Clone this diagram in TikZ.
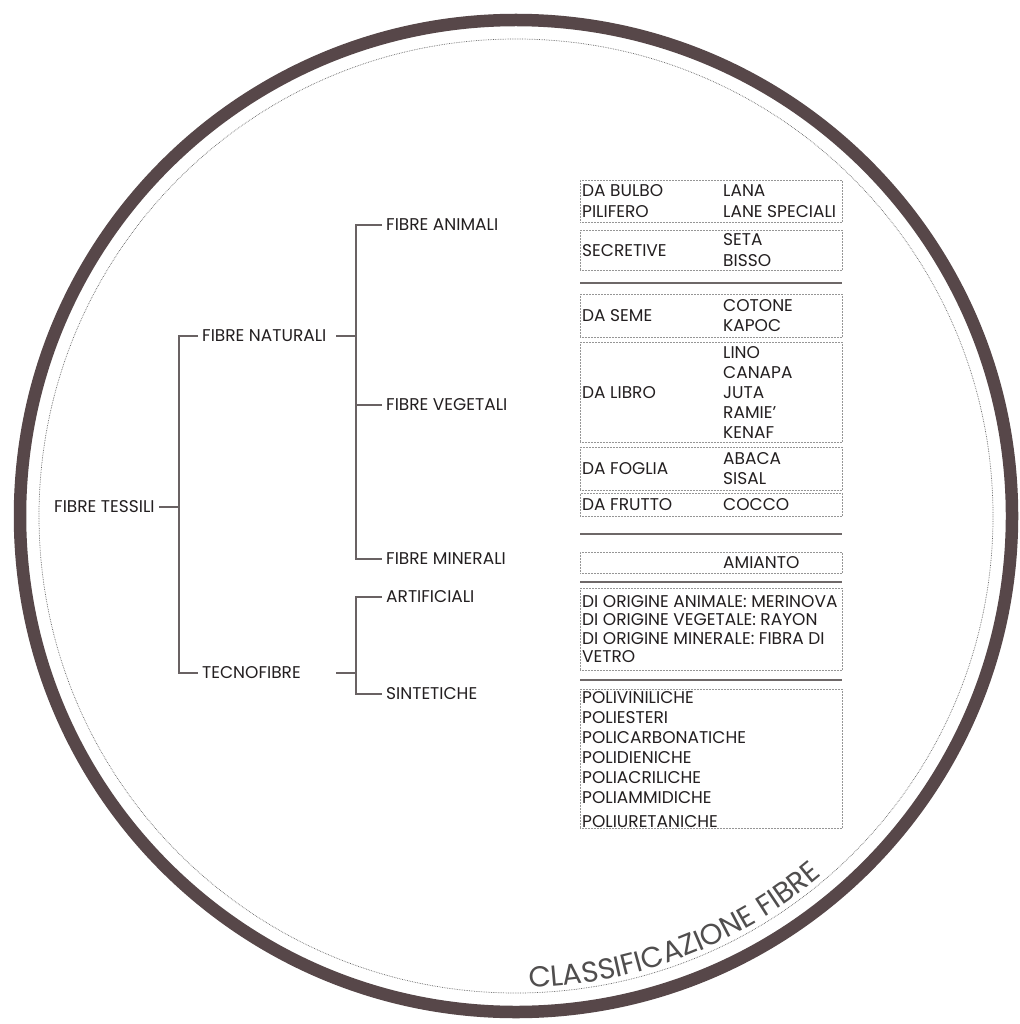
\documentclass[tikz,border=0pt]{standalone}
\usepackage{fontspec}
\setmainfont{Poppins}
\usetikzlibrary{decorations.text}

\definecolor{ringbrown}{RGB}{87,71,73}
\definecolor{sepgray}{RGB}{110,104,104}
\definecolor{linegray}{RGB}{105,98,99}
\definecolor{boxgray}{RGB}{150,150,150}
\definecolor{ink}{RGB}{35,31,32}
\definecolor{titlegray}{RGB}{80,78,78}

\tikzset{
  branch/.style={anchor=west, inner xsep=4pt, inner ysep=0pt, text=ink,
    font=\fontsize{17}{20}\selectfont},
  tree/.style={draw=linegray, line width=1.3pt},
  catbox/.style={draw=boxgray, densely dotted, line width=0.5pt,
    minimum width=262pt, anchor=north west, inner sep=0pt},
  lbl/.style={anchor=west, inner sep=0pt, align=left, text=ink,
    font=\fontsize{17}{20.5}\selectfont},
  sep/.style={draw=sepgray, line width=2.6pt},
}

\begin{document}
\begin{tikzpicture}[x=1pt, y=-1pt]
    \useasboundingbox[fill=white] (0,0) rectangle (1019,1024);

    % Outer ring and dotted circle
    \draw[ringbrown, line width=12.5pt] (516,516) circle[radius=496];
    \draw[black!60, densely dotted, line width=0.7pt] (516,516) circle[radius=477];

    % Tree nodes
    \node[branch] (tessili) at (50,507) {FIBRE TESSILI};
    \node[branch] (naturali) at (198,336) {FIBRE NATURALI};
    \node[branch] (tecno) at (198,673) {TECNOFIBRE};
    \node[branch] (animali) at (382,225) {FIBRE ANIMALI};
    \node[branch] (vegetali) at (382,405) {FIBRE VEGETALI};
    \node[branch] (minerali) at (382,559) {FIBRE MINERALI};
    \node[branch] (artificiali) at (382,597) {ARTIFICIALI};
    \node[branch] (sintetiche) at (382,694) {SINTETICHE};

    % Junctions
    \coordinate (j1) at (179,507);
    \coordinate (naturali-out) at (336,336);
    \coordinate (j2) at (356,336);
    \coordinate (tecno-out) at (336,673);
    \coordinate (j3) at (356,673);

    % Tree edges
    \draw[tree] (tessili) -- (j1);
    \draw[tree] (naturali.west) -| (j1) |- (tecno.west);
    \draw[tree] (naturali-out) -- (j2);
    \draw[tree] (animali.west) -| (j2) |- (minerali.west);
    \draw[tree] (vegetali.west) -- (vegetali.west -| j2);
    \draw[tree] (tecno-out) -- (j3);
    \draw[tree] (artificiali.west) -| (j3) |- (sintetiche.west);

    % Fibre animali
    \node[catbox, minimum height=42pt] (bulbo) at (580,180) {};
    \node[lbl] at ([xshift=2pt]bulbo.west) {DA BULBO\\PILIFERO};
    \node[lbl] at ([xshift=143pt]bulbo.west) {LANA\\LANE SPECIALI};
    \node[catbox, minimum height=40pt] (secretive) at (580,230) {};
    \node[lbl] at ([xshift=2pt]secretive.west) {SECRETIVE};
    \node[lbl] at ([xshift=143pt]secretive.west) {SETA\\BISSO};
    \draw[sep] (580,283) -- (842,283);

    % Fibre vegetali
    \node[catbox, minimum height=43pt] (seme) at (580,294) {};
    \node[lbl] at ([xshift=2pt]seme.west) {DA SEME};
    \node[lbl] at ([xshift=143pt]seme.west) {COTONE\\KAPOC};
    \node[catbox, minimum height=100pt] (libro) at (580,342) {};
    \node[lbl] at ([xshift=2pt]libro.west) {DA LIBRO};
    \node[lbl, font=\fontsize{17}{20}\selectfont] at ([xshift=143pt]libro.west)
        {LINO\\CANAPA\\JUTA\\RAMIE'\\KENAF};
    \node[catbox, minimum height=43pt] (foglia) at (580,447) {};
    \node[lbl] at ([xshift=2pt]foglia.west) {DA FOGLIA};
    \node[lbl] at ([xshift=143pt]foglia.west) {ABACA\\SISAL};
    \node[catbox, minimum height=23pt] (frutto) at (580,493) {};
    \node[lbl] at ([xshift=2pt]frutto.west) {DA FRUTTO};
    \node[lbl] at ([xshift=143pt]frutto.west) {COCCO};
    \draw[sep] (580,534) -- (842,534);

    % Fibre minerali
    \node[catbox, minimum height=21pt] (amianto) at (580,552) {};
    \node[lbl] at ([xshift=143pt]amianto.west) {AMIANTO};
    \draw[sep] (580,582) -- (842,582);

    % Artificiali
    \node[catbox, minimum height=82pt] (origine) at (580,588) {};
    \node[lbl, font=\fontsize{17}{18.5}\selectfont] at ([xshift=2pt]origine.west)
        {DI ORIGINE ANIMALE: MERINOVA\\DI ORIGINE VEGETALE: RAYON\\DI ORIGINE MINERALE: FIBRA DI\\VETRO};
    \draw[sep] (580,680) -- (842,680);

    % Sintetiche
    \node[catbox, minimum height=139pt] (poli) at (580,689) {};
    \node[lbl, font=\fontsize{17}{20}\selectfont] at ([xshift=2pt,yshift=-1pt]poli.west)
        {POLIVINILICHE\\POLIESTERI\\POLICARBONATICHE\\POLIDIENICHE\\POLIACRILICHE\\POLIAMMIDICHE\\[4pt]POLIURETANICHE};

    % Title along the circle
    \path[decorate, decoration={text along path, text align=center, text color=titlegray,
        text={|\fontsize{29}{29}\selectfont|CLASSIFICAZIONE FIBRE}}]
        (516,516) ++(101:472) arc[start angle=101, end angle=37, radius=472];
\end{tikzpicture}
\end{document}
